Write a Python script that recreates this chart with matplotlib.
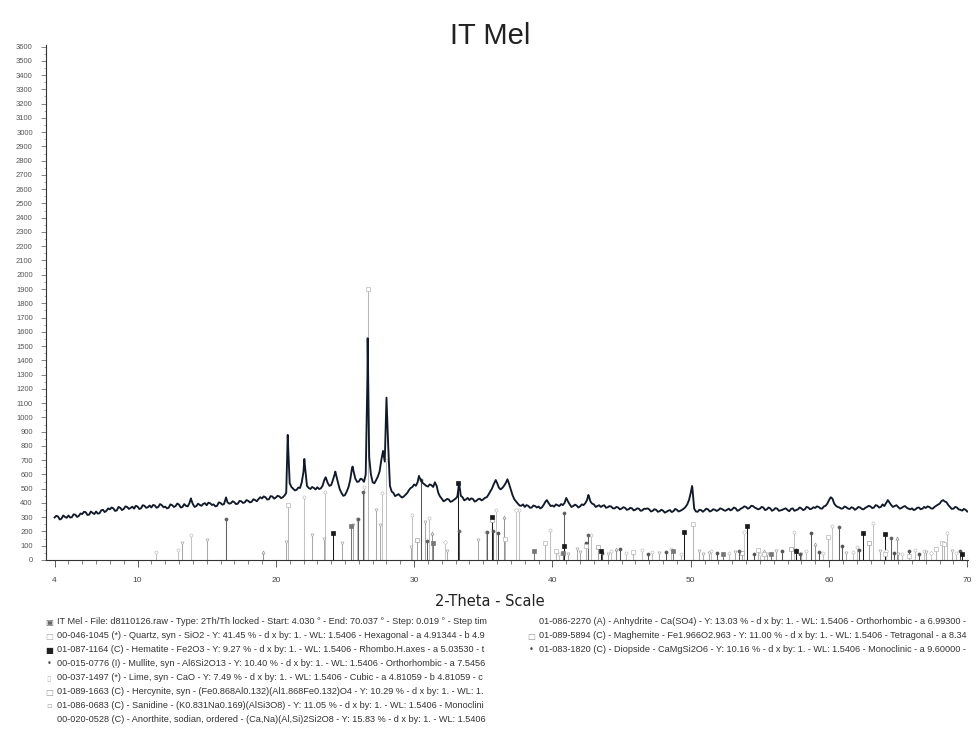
import matplotlib

matplotlib.use("Agg")

import matplotlib.pyplot as plt
import numpy as np
from matplotlib.ticker import FixedLocator, MultipleLocator


# Raw scan counts on the 0.25 deg grid, 4.00 .. 70.00 deg 2-theta
scan_counts = [
    298, 305, 290, 302,
    312, 300, 318, 309,
    322, 335, 318, 330,
    340, 328, 352, 345,
    355, 362, 348, 366,
    358, 372, 365, 360,
    375, 362, 380, 370,
    368, 382, 372, 385,
    374, 366, 385, 378,
    388, 372, 380, 398,
    392, 378, 386, 394,
    384, 398, 390, 380,
    400, 392, 405, 398,
    405, 395, 412, 404,
    415, 408, 420, 428,
    432, 440, 426, 445,
    438, 446, 440, 470,
    540, 500, 492, 505,
    620, 520, 498, 505,
    510, 502, 560, 540,
    525, 600, 540, 470,
    455, 510, 640, 570,
    550, 565, 600, 720,
    545, 560, 620, 765,
    1138, 520, 470, 455,
    448, 445, 470, 505,
    530, 545, 560, 530,
    515, 525, 545, 470,
    430, 418, 425, 412,
    430, 540, 440, 425,
    420, 428, 415, 430,
    425, 440, 480, 530,
    540, 495, 520, 566,
    490, 425, 395, 380,
    372, 380, 368, 378,
    375, 370, 410, 395,
    382, 390, 378, 385,
    435, 390, 378, 382,
    376, 385, 420, 410,
    390, 378, 372, 384,
    370, 375, 362, 368,
    360, 366, 355, 362,
    352, 360, 348, 358,
    355, 345, 352, 342,
    346, 338, 350, 342,
    352, 345, 360, 390,
    470, 360, 338, 350,
    348, 355, 345, 352,
    350, 358, 345, 360,
    355, 362, 350, 366,
    372, 365, 378, 362,
    360, 368, 355, 362,
    352, 360, 348, 358,
    350, 358, 345, 355,
    362, 355, 368, 360,
    365, 372, 360, 380,
    420, 430, 380, 368,
    362, 370, 358, 365,
    360, 368, 355, 372,
    375, 368, 380, 372,
    378, 420, 385, 378,
    372, 365, 378, 360,
    362, 355, 368, 360,
    365, 372, 360, 380,
    395, 420, 405, 372,
    360, 368, 352, 358,
    340,
]

# Counts at the half steps, 4.125 .. 69.875 deg
mid_counts = [
    310, 284, 312, 296,
    298, 320, 302, 326,
    338, 316, 340, 322,
    325, 348, 336, 362,
    368, 344, 372, 350,
    376, 358, 374, 380,
    358, 384, 366, 382,
    386, 366, 392, 370,
    362, 390, 372, 396,
    368, 392, 376, 425,
    372, 395, 380, 398,
    402, 386, 376, 404,
    388, 430, 395, 412,
    392, 414, 400, 420,
    404, 426, 412, 440,
    446, 424, 448, 430,
    450, 434, 452, 830,
    512, 488, 508, 545,
    640, 505, 512, 495,
    498, 520, 575, 520,
    560, 590, 495, 450,
    480, 560, 620, 548,
    570, 548, 1300, 600,
    538, 585, 700, 690,
    800, 480, 448, 462,
    438, 458, 490, 512,
    520, 580, 540, 520,
    530, 512, 520, 445,
    412, 428, 408, 422,
    445, 450, 418, 435,
    432, 410, 426, 418,
    436, 458, 500, 555,
    508, 505, 540, 530,
    452, 410, 382, 390,
    385, 366, 382, 368,
    362, 388, 415, 378,
    374, 384, 392, 400,
    410, 372, 388, 368,
    390, 398, 450, 395,
    372, 384, 380, 366,
    378, 362, 372, 355,
    370, 352, 366, 348,
    362, 345, 360, 362,
    340, 356, 338, 352,
    332, 346, 336, 358,
    340, 352, 372, 420,
    500, 340, 352, 338,
    360, 340, 356, 344,
    362, 350, 352, 348,
    368, 345, 360, 376,
    360, 380, 368, 355,
    372, 350, 368, 345,
    364, 345, 352, 362,
    342, 362, 350, 368,
    350, 372, 356, 370,
    376, 362, 375, 395,
    440, 395, 372, 360,
    375, 360, 370, 352,
    372, 358, 366, 380,
    364, 385, 368, 390,
    398, 402, 372, 384,
    360, 374, 366, 355,
    350, 366, 356, 372,
    376, 362, 372, 388,
    412, 410, 385, 358,
    372, 355, 346, 352,
]

# Extra points on the sharp reflections
peak_two_theta = [13.86, 16.4, 20.86, 22.06, 23.6, 24.3, 25.55,
                  26.64, 30.35, 35.9, 39.6, 42.6, 50.1]
peak_counts = [432, 439, 877, 708, 580, 620, 655,
               1555, 590, 561, 420, 456, 519]

# Reference patterns (stick positions, scaled intensities)
quartz_pos = [20.86, 26.64, 36.54, 39.47, 40.29, 42.45, 45.79, 50.14,
              54.87, 55.33, 59.96, 64.03, 65.79, 67.74, 68.14, 68.32]
quartz_int = [386, 1898, 150, 120, 60, 100, 55, 250,
              70, 40, 160, 40, 30, 80, 120, 110]

hematite_pos = [24.14, 33.15, 35.61, 40.85, 43.52, 49.48, 54.09,
                57.59, 62.45, 64.02, 69.6]
hematite_int = [189, 540, 300, 100, 60, 199, 238, 60, 187, 182, 40]

mullite_pos = [16.43, 25.97, 26.27, 30.96, 33.23, 35.27, 40.87,
               42.6, 53.5, 57.6, 60.7, 64.5]
mullite_int = [285, 285, 479, 130, 200, 199, 327, 175, 60, 70, 234, 154]

lime_pos = [32.2, 37.36, 53.85, 64.15, 67.38]
lime_int = [128, 350, 199, 60, 50]

hercynite_pos = [19.1, 31.3, 36.5, 44.6, 55.3, 59.0, 64.9]
hercynite_int = [58, 189, 304, 80, 60, 110, 154]

sanidine_pos = [13.2, 15.0, 20.77, 22.6, 23.5, 24.76, 25.6, 27.24,
                27.53, 29.8, 30.78, 32.4, 34.6, 41.1, 41.8, 42.0,
                44.0, 45.8, 47.7, 50.6, 50.9, 51.3, 53.2, 55.5,
                56.2, 58.0, 61.2, 63.7, 65.0, 67.0, 68.9]
sanidine_int = [120, 140, 128, 175, 150, 119, 245, 350,
                245, 90, 269, 60, 140, 40, 80, 55,
                45, 40, 50, 60, 40, 50, 55, 40,
                60, 45, 50, 60, 45, 55, 60]

anorthite_pos = [11.3, 12.9, 13.86, 22.06, 23.56, 25.85, 26.4, 27.7,
                 27.95, 29.87, 31.1, 35.2, 35.9, 37.6, 39.8, 40.5,
                 42.8, 44.2, 45.3, 46.5, 47.2, 48.6, 49.3, 51.5,
                 52.8, 55.0, 57.5, 58.3, 59.6, 60.2, 61.7, 62.0,
                 63.2, 65.3, 66.2, 66.9, 68.5, 69.2]
anorthite_int = [58, 70, 175, 444, 479, 285, 514, 467,
                 700, 315, 292, 199, 350, 350, 210, 40,
                 175, 60, 50, 70, 55, 80, 45, 60,
                 50, 45, 199, 60, 50, 238, 55, 90,
                 260, 45, 70, 60, 189, 50]

anhydrite_pos = [25.45, 31.38, 38.65, 40.8, 48.7, 52.3, 55.8]
anhydrite_int = [240, 119, 60, 50, 60, 45, 40]

maghemite_pos = [30.24, 35.63, 43.28, 53.7, 57.27, 62.92]
maghemite_int = [140, 280, 90, 50, 80, 120]

diopside_pos = [30.5, 35.7, 36.05, 42.4, 43.6, 44.9, 46.9, 48.2,
                51.9, 54.6, 56.6, 57.9, 58.7, 59.3, 60.95, 62.2,
                64.7, 65.8, 66.5, 69.5]
diopside_int = [560, 200, 190, 120, 50, 80, 45, 55,
                50, 40, 60, 45, 189, 55, 100, 70,
                50, 60, 45, 60]

legend_left = [
    "IT Mel - File: d8110126.raw - Type: 2Th/Th locked - Start: 4.030 \u00b0 - "
    "End: 70.037 \u00b0 - Step: 0.019 \u00b0 - Step tim",
    "00-046-1045 (*) - Quartz, syn - SiO2 - Y: 41.45 % - d x by: 1. - "
    "WL: 1.5406 - Hexagonal - a 4.91344 - b 4.9",
    "01-087-1164 (C) - Hematite - Fe2O3 - Y: 9.27 % - d x by: 1. - "
    "WL: 1.5406 - Rhombo.H.axes - a 5.03530 - t",
    "00-015-0776 (I) - Mullite, syn - Al6Si2O13 - Y: 10.40 % - d x by: 1. - "
    "WL: 1.5406 - Orthorhombic - a 7.5456",
    "00-037-1497 (*) - Lime, syn - CaO - Y: 7.49 % - d x by: 1. - "
    "WL: 1.5406 - Cubic - a 4.81059 - b 4.81059 - c",
    "01-089-1663 (C) - Hercynite, syn - (Fe0.868Al0.132)(Al1.868Fe0.132)O4 - "
    "Y: 10.29 % - d x by: 1. - WL: 1.",
    "01-086-0683 (C) - Sanidine - (K0.831Na0.169)(AlSi3O8) - Y: 11.05 % - "
    "d x by: 1. - WL: 1.5406 - Monoclini",
    "00-020-0528 (C) - Anorthite, sodian, ordered - (Ca,Na)(Al,Si)2Si2O8 - "
    "Y: 15.83 % - d x by: 1. - WL: 1.5406",
]
legend_right = [
    "01-086-2270 (A) - Anhydrite - Ca(SO4) - Y: 13.03 % - d x by: 1. - "
    "WL: 1.5406 - Orthorhombic - a 6.99300 -",
    "01-089-5894 (C) - Maghemite - Fe1.966O2.963 - Y: 11.00 % - d x by: 1. - "
    "WL: 1.5406 - Tetragonal - a 8.34",
    "01-083-1820 (C) - Diopside - CaMgSi2O6 - Y: 10.16 % - d x by: 1. - "
    "WL: 1.5406 - Monoclinic - a 9.60000 -",
]

W, H = 978, 732


def fx(px):
    return px / W


def fy(py):
    return 1 - py / H


def draw_sticks(ax, pos, inten, color, marker, filled=True):
    ax.vlines(pos, 0, inten, colors=color, linewidth=0.75, zorder=2)
    ax.plot(
        pos,
        inten,
        linestyle="none",
        marker=marker,
        markersize=2.2,
        markeredgewidth=0.5,
        markeredgecolor=color,
        markerfacecolor=color if filled else "white",
        zorder=3,
    )


def main():
    plt.rcParams["font.family"] = ["Liberation Sans", "DejaVu Sans"]

    fig = plt.figure(figsize=(W / 100, H / 100), dpi=100, facecolor="white")
    ax = fig.add_axes([fx(46), fy(560), fx(968) - fx(46), (560 - 45) / H])

    grid_two_theta = np.linspace(4.0, 70.0, len(scan_counts))
    mid_two_theta = np.linspace(4.125, 69.875, len(mid_counts))
    x = np.concatenate([grid_two_theta, mid_two_theta, peak_two_theta])
    y = np.concatenate([scan_counts, mid_counts, peak_counts])
    order = np.argsort(x)

    phases = [
        (anorthite_pos, anorthite_int, "#c2c2c2", "o", False),
        (sanidine_pos, sanidine_int, "#a8a8a8", "v", False),
        (lime_pos, lime_int, "#c8c8c8", "D", False),
        (hercynite_pos, hercynite_int, "#959595", "^", False),
        (maghemite_pos, maghemite_int, "#a0a0a0", "s", False),
        (anhydrite_pos, anhydrite_int, "#777777", "s", True),
        (diopside_pos, diopside_int, "#555555", "o", True),
        (mullite_pos, mullite_int, "#606060", "o", True),
        (quartz_pos, quartz_int, "#b8b8b8", "s", False),
        (hematite_pos, hematite_int, "#1a1a1a", "s", True),
    ]
    for pos, inten, color, marker, filled in phases:
        draw_sticks(ax, pos, inten, color, marker, filled)

    ax.plot(x[order], y[order], color="#121a2a", linewidth=1.35, zorder=4)

    ax.set_xlim(3.38, 70.05)
    ax.set_ylim(0, 3611)

    for side in ("top", "right"):
        ax.spines[side].set_visible(False)
    for side in ("left", "bottom"):
        ax.spines[side].set_color("#333333")
        ax.spines[side].set_linewidth(0.8)

    ax.xaxis.set_major_locator(FixedLocator([4, 10, 20, 30, 40, 50, 60, 70]))
    ax.xaxis.set_minor_locator(MultipleLocator(1))
    ax.yaxis.set_major_locator(MultipleLocator(100))
    ax.yaxis.set_minor_locator(MultipleLocator(50))
    ax.tick_params(axis="x", which="major", length=5, width=0.6,
                   colors="#444444", labelsize=6, pad=7)
    ax.tick_params(axis="x", which="minor", length=3, width=0.5,
                   colors="#555555")
    ax.tick_params(axis="y", which="major", length=3.5, width=0.5,
                   colors="#555555", labelsize=5.5, pad=6)
    ax.tick_params(axis="y", which="minor", length=1.5, width=0.4,
                   colors="#777777")

    fig.text(fx(490), fy(36), "IT Mel", fontsize=21, color="#222222",
             ha="center", va="center")
    fig.text(fx(490), fy(601), "2-Theta - Scale", fontsize=10.5,
             family=["Liberation Sans Narrow", "DejaVu Sans"],
             color="#222222", ha="center", va="center")

    left_marks = ["\u25a3", "\u25a1", "\u25a0", "\u2022", "\u25af",
                  "\u25a1", "\u25ab", ""]
    left_mark_colors = ["#666666", "#aaaaaa", "#222222", "#555555",
                        "#bbbbbb", "#999999", "#aaaaaa", "#aaaaaa"]
    for i, line in enumerate(legend_left):
        yy = 622 + 14 * i
        fig.text(fx(49), fy(yy), left_marks[i], fontsize=6,
                 family=["DejaVu Sans"], color=left_mark_colors[i],
                 ha="center", va="center")
        fig.text(fx(57), fy(yy), line, fontsize=6.6, color="#333333",
                 ha="left", va="center")

    right_marks = ["", "\u25a1", "\u2022"]
    right_mark_colors = ["#888888", "#999999", "#444444"]
    for i, line in enumerate(legend_right):
        yy = 622 + 14 * i
        fig.text(fx(531), fy(yy), right_marks[i], fontsize=6,
                 family=["DejaVu Sans"], color=right_mark_colors[i],
                 ha="center", va="center")
        fig.text(fx(539), fy(yy), line, fontsize=6.6, color="#333333",
                 ha="left", va="center")

    fig.savefig("out.png", dpi=100, facecolor="white")
    plt.close(fig)


if __name__ == "__main__":
    main()
